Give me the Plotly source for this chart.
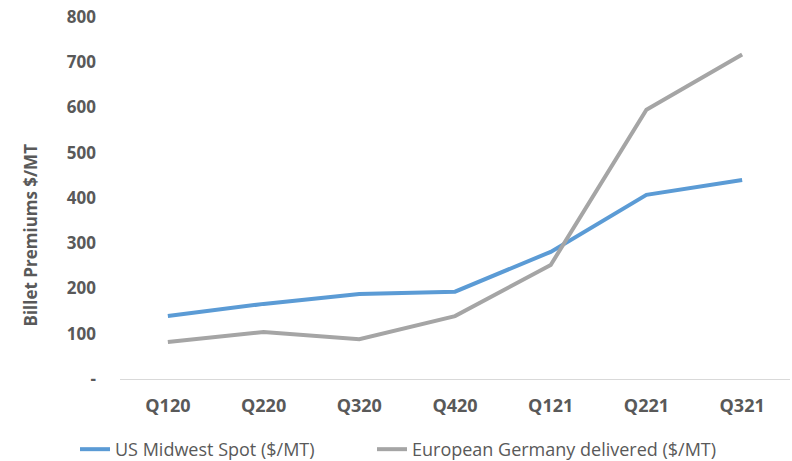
import plotly.graph_objects as go

quarters = ["Q120", "Q220", "Q320", "Q420", "Q121", "Q221", "Q321"]
us_midwest = [139, 166, 188, 193, 281, 407, 440]
eu_germany = [82, 104, 88, 139, 252, 595, 717]

y_ticks = [0, 100, 200, 300, 400, 500, 600, 700, 800]
y_tick_text = ["-", "100", "200", "300", "400", "500", "600", "700", "800"]

label_color = "#595959"
font_family = "'Open Sans', sans-serif"

fig = go.Figure()
fig.add_trace(go.Scatter(
    x=quarters, y=us_midwest, mode="lines",
    name="US Midwest Spot ($/MT)",
    line=dict(color="#5B9BD5", width=4),
    legend="legend",
))
fig.add_trace(go.Scatter(
    x=quarters, y=eu_germany, mode="lines",
    name="European Germany delivered ($/MT)",
    line=dict(color="#A5A5A5", width=4),
    legend="legend2",
))

# vertical axis title, placed beside the value labels
fig.add_annotation(
    text="<b>Billet Premiums $/MT</b>", textangle=-90,
    xref="paper", yref="paper", x=-0.134, y=0.397,
    xanchor="center", yanchor="middle", showarrow=False,
    font=dict(size=17, color=label_color),
)

legend_common = dict(
    orientation="h", y=0.025, yref="container",
    yanchor="middle", xanchor="left", xref="container",
    font=dict(size=18, color=label_color),
    itemwidth=30, bgcolor="rgba(0,0,0,0)",
)

fig.update_layout(
    width=792, height=461,
    margin=dict(l=120, r=2, t=17, b=82),
    paper_bgcolor="white", plot_bgcolor="white",
    font=dict(family=font_family, color=label_color, size=18),
    showlegend=True,
    legend=dict(x=0.0947, **legend_common),
    legend2=dict(x=0.4697, **legend_common),
    xaxis=dict(
        type="category", range=[-0.5, 6.5],
        showgrid=False, zeroline=False,
        showline=True, linecolor="#D9D9D9", linewidth=1,
        ticks="", tickfont=dict(size=18, color=label_color, weight="bold"),
        ticklabelstandoff=10,
    ),
    yaxis=dict(
        range=[0, 800],
        tickvals=y_ticks, ticktext=y_tick_text,
        showgrid=False, zeroline=False, showline=False,
        ticks="", tickfont=dict(size=17, color=label_color, weight="bold"),
        ticklabelstandoff=23,
    ),
)

fig.write_html("out.html")
